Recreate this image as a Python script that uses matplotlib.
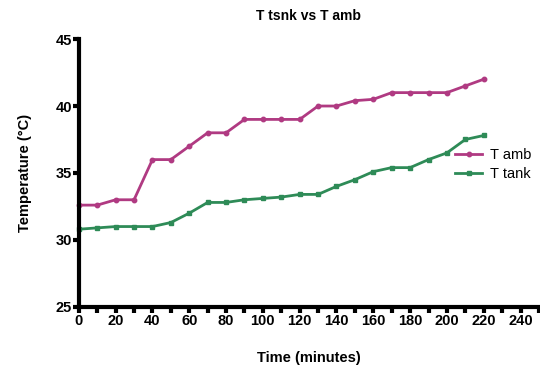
import matplotlib.pyplot as plt
from matplotlib.ticker import MultipleLocator

plt.rcParams['font.family'] = ['Liberation Sans', 'DejaVu Sans']

# time in minutes
time_min = [0, 10, 20, 30, 40, 50, 60, 70, 80, 90, 100, 110, 120,
            130, 140, 150, 160, 170, 180, 190, 200, 210, 220]
t_amb = [32.6, 32.6, 33.0, 33.0, 36.0, 36.0, 37.0, 38.0, 38.0, 39.0, 39.0, 39.0, 39.0,
         40.0, 40.0, 40.4, 40.5, 41.0, 41.0, 41.0, 41.0, 41.5, 42.0]
t_tank = [30.8, 30.9, 31.0, 31.0, 31.0, 31.3, 32.0, 32.8, 32.8, 33.0, 33.1, 33.2, 33.4,
          33.4, 34.0, 34.5, 35.1, 35.4, 35.4, 36.0, 36.5, 37.5, 37.8]

fig = plt.figure(figsize=(5.4, 3.72), dpi=100)
ax = fig.add_axes([0.146, 0.175, 0.852, 0.72])

ax.plot(time_min, t_amb, color='#b03a82', marker='o', markersize=3.2,
        linewidth=2, label='T amb', clip_on=False)
ax.plot(time_min, t_tank, color='#2e8b57', marker='s', markersize=3.2,
        linewidth=2, label='T tank', clip_on=False)

ax.set_xlim(0, 250)
ax.set_ylim(25, 45)
ax.xaxis.set_major_locator(MultipleLocator(20))
ax.xaxis.set_minor_locator(MultipleLocator(10))
ax.yaxis.set_major_locator(MultipleLocator(5))

for side in ['top', 'right']:
    ax.spines[side].set_visible(False)
for side in ['left', 'bottom']:
    ax.spines[side].set_linewidth(3)

ax.tick_params(axis='both', which='major', direction='out', length=4, width=3,
               labelsize=10.5, pad=1)
ax.tick_params(axis='x', which='minor', direction='out', length=4, width=3)
for lbl in ax.get_xticklabels() + ax.get_yticklabels():
    lbl.set_fontweight('bold')

ax.set_title('T tsnk vs T amb', fontsize=10, fontweight='bold', pad=14)
ax.set_xlabel('Time (minutes)', fontsize=10.5, fontweight='bold', labelpad=17)
ax.set_ylabel('Temperature (°C)', fontsize=10.5, fontweight='bold', labelpad=17)

ax.legend(loc='center right', bbox_to_anchor=(1.013, 0.53), frameon=False,
          fontsize=10.5, handlelength=1.8, handletextpad=0.6, labelspacing=0.35)

fig.savefig('out.png', dpi=100)
